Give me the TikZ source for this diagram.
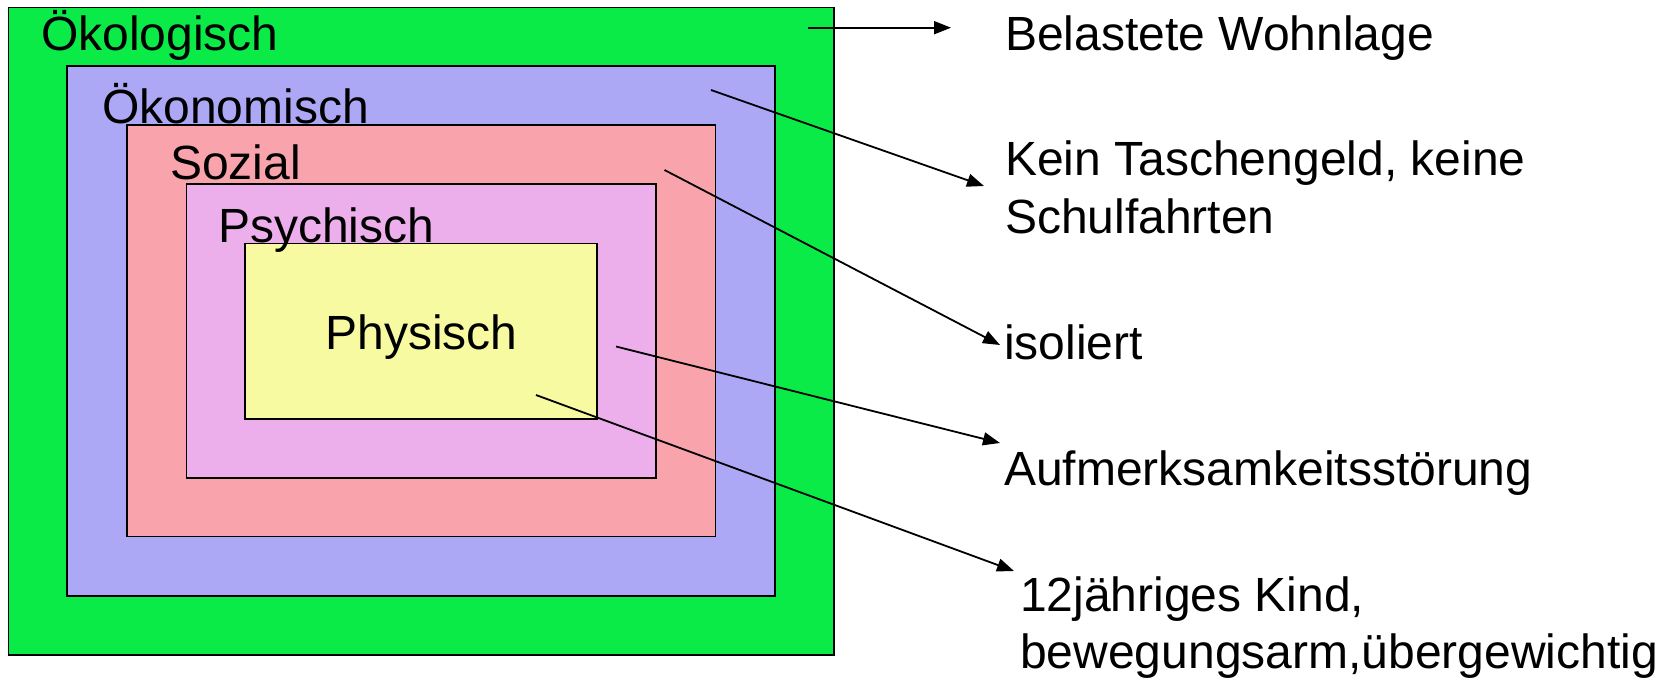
\documentclass[tikz,border=0pt]{standalone}
\usepackage{fontspec}
\setmainfont{Liberation Sans}
\usetikzlibrary{arrows.meta}

\definecolor{oekogreen}{RGB}{10,235,72}
\definecolor{oekoblue}{RGB}{173,168,245}
\definecolor{sozred}{RGB}{249,164,172}
\definecolor{psypink}{RGB}{236,175,236}
\definecolor{physyellow}{RGB}{247,250,160}

\tikzset{
	lab/.style={inner sep=0pt, anchor=base west, font=\fontsize{48}{57.6}\selectfont},
	ring/.style={draw=black, line width=1.5pt},
	pfeil/.style={draw=black, line width=1.8pt, -{Triangle[length=17pt,width=13pt]}}
}

\begin{document}
\begin{tikzpicture}[x=1pt,y=-1pt]
	\useasboundingbox (0,0) rectangle (1672,679);
	\fill[white] (0,0) rectangle (1672,679);

	\draw[ring,fill=oekogreen] (8.5,7.5) rectangle (834,655);
	\draw[ring,fill=oekoblue] (67,66) rectangle (775,596);
	\draw[ring,fill=sozred] (127,125) rectangle (715.5,536.5);
	\draw[ring,fill=psypink] (186.5,184) rectangle (656,478);
	\draw[ring,fill=physyellow] (245,243.5) rectangle (597,419);

	\node[lab] (oeko) at (41,51) {Ökologisch};
	\node[lab] (oekon) at (102,123.5) {Ökonomisch};
	\node[lab] (sozial) at (170,179) {Sozial};
	\node[lab] (psych) at (218,242) {Psychisch};
	\node[lab,anchor=base] (phys) at (421.5,349.5) {Physisch};

	\node[lab] (wohn) at (1005,51) {Belastete Wohnlage};
	\node[lab] (geld) at (1005,176) {Kein Taschengeld, keine};
	\node[lab] (geld2) at (1005,233.6) {Schulfahrten};
	\node[lab] (iso) at (1004,359) {isoliert};
	\node[lab] (aufm) at (1004,485) {Aufmerksamkeitsstörung};
	\node[lab] (kind) at (1020,611) {12jähriges Kind,};
	\node[lab] (kind2) at (1020,668.6) {bewegungsarm,übergewichtig};

	% Pfeile von den Ebenen zu den Beispielen
	\coordinate (oeko-a) at (808,27.7);
	\coordinate (oeko-b) at (951,27.7);
	\coordinate (oekon-a) at (711,90);
	\coordinate (oekon-b) at (984,186);
	\coordinate (sozial-a) at (664.5,170);
	\coordinate (sozial-b) at (1000,345);
	\coordinate (psych-a) at (616,346.5);
	\coordinate (psych-b) at (1000,443);
	\coordinate (phys-a) at (536,395);
	\coordinate (phys-b) at (1014,571);

	\draw[pfeil] (oeko-a) -- (oeko-b);
	\draw[pfeil] (oekon-a) -- (oekon-b);
	\draw[pfeil] (sozial-a) -- (sozial-b);
	\draw[pfeil] (psych-a) -- (psych-b);
	\draw[pfeil] (phys-a) -- (phys-b);

\end{tikzpicture}
\end{document}
